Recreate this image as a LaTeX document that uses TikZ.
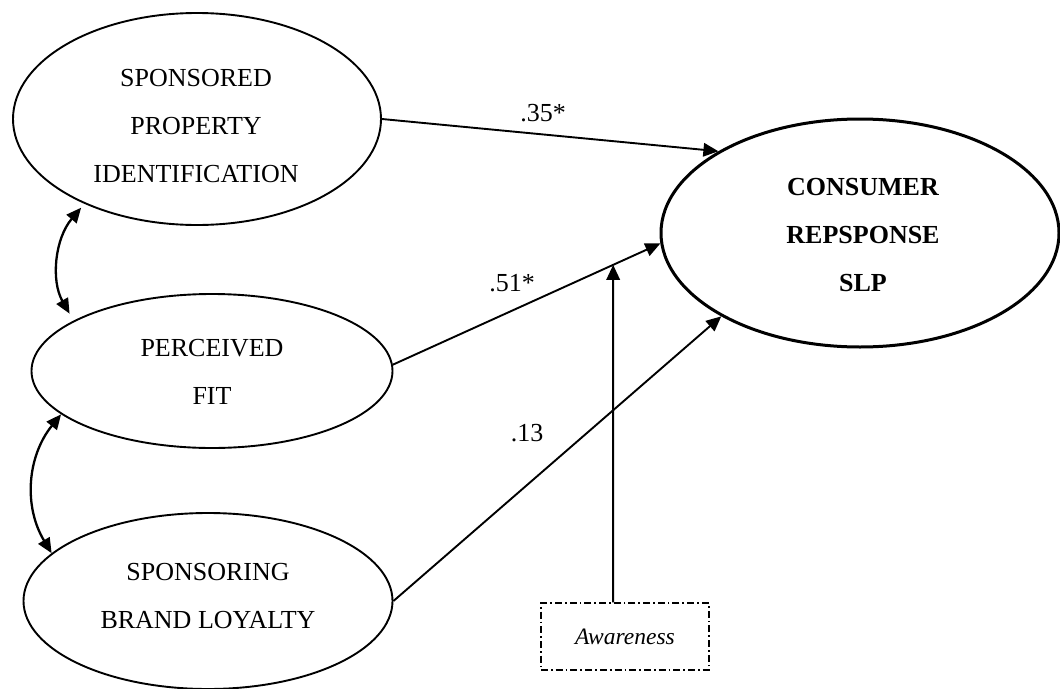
\documentclass[tikz,border=0pt]{standalone}
\usepackage{fontspec}
\setmainfont{Liberation Serif}
\usetikzlibrary{arrows.meta,calc,shapes.geometric}
\begin{document}
\begin{tikzpicture}[x=1pt,y=-1pt,
  ell/.style={draw,ellipse,inner sep=0pt,line width=1.9pt},
  lbl/.style={align=center,font=\fontsize{26}{48}\selectfont,inner sep=0pt},
  coef/.style={font=\fontsize{26}{30}\selectfont,inner sep=0pt},
  link/.style={line width=1.9pt,-{Triangle[length=15pt,width=13.5pt]}},
  cov/.style={line width=2.3pt,{Triangle[length=15pt,width=13pt]}-{Triangle[length=15pt,width=13pt]}}
]
\useasboundingbox (0,0) rectangle (1060,688);
% latent variables
\node[ell,minimum width=368pt,minimum height=212pt] (spi) at (197,119) {};
\node[ell,minimum width=361pt,minimum height=154pt] (pf) at (212,371) {};
\node[ell,minimum width=369pt,minimum height=176pt] (sbl) at (208,601) {};
\node[ell,line width=3pt,minimum width=398pt,minimum height=228pt] (cr) at (860,233) {};
% texts
\node[lbl] (spiT) at (196,126) {SPONSORED\\PROPERTY\\IDENTIFICATION};
\node[lbl] (pfT) at (212,372) {PERCEIVED\\FIT};
\node[lbl] (sblT) at (208,596) {SPONSORING\\BRAND LOYALTY};
\node[lbl,font=\fontsize{26}{48}\selectfont\bfseries] (crT) at (863,235) {CONSUMER\\REPSPONSE\\SLP};
% moderator
\node[draw,line width=1.3pt,dash pattern=on 7pt off 3pt on 1.7pt off 3pt,
      minimum width=168pt,minimum height=67pt,inner sep=0pt,
      font=\fontsize{23.5}{28}\selectfont\itshape] (aw) at (625,636.5) {Awareness};
% coordinates
\coordinate (pfS) at (pf.2);
\coordinate (crW) at (cr.183);
\coordinate (awT) at ($(aw.north west)!0.43!(aw.north east)$);
\coordinate (awU) at ($(awT)+(0,-400)$);
\coordinate (mod) at (intersection of pfS--crW and awT--awU);
% paths
\draw[link] (spi.east) -- (cr.150);
\draw[link] (pfS) -- (crW);
\draw[link] (sbl.east) -- (cr.211);
\draw[link] (awT) -- (mod);
% covariances
\draw[cov,shorten <=5pt,shorten >=8pt] (spi.217) to[bend right=35] (pf.160);
\draw[cov] (pf.196) to[bend right=35] (sbl.163);
% coefficients
\node[coef] (l35) at (543,113) {.35*};
\node[coef] (l51) at (512,283) {.51*};
\node[coef] (l13) at (527,433) {.13};
\end{tikzpicture}
\end{document}
